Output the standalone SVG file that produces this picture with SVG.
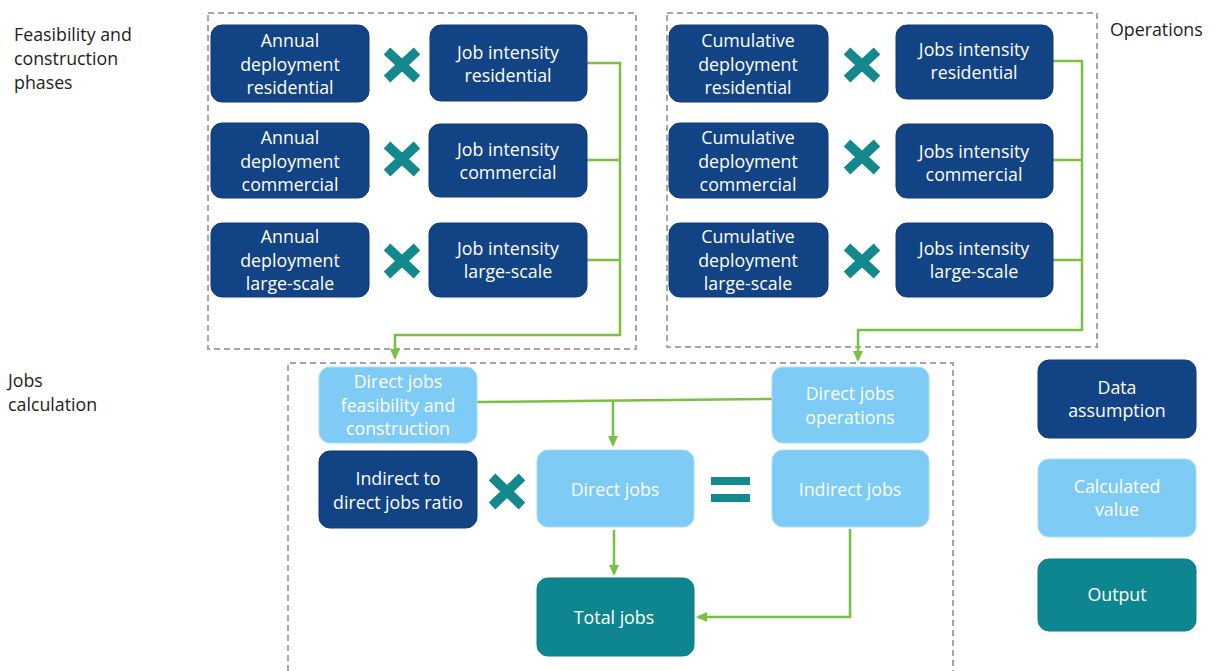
<svg xmlns="http://www.w3.org/2000/svg" width="1215" height="671" viewBox="0 0 1215 671">
<style>
.dash{fill:none;stroke:#a6a6a6;stroke-width:2;stroke-dasharray:6,4}
.dark{fill:#124385;stroke:#0e3a74;stroke-width:1}
.light{fill:#7ecbf5;stroke:#a8dcf8;stroke-width:1}
.teal{fill:#0e8690;stroke:#0c7d86;stroke-width:1}
.t{font-family:"Open Sans","Liberation Sans",sans-serif;font-size:17.8px;fill:#fff;text-anchor:middle}
.lt{font-family:"Open Sans","Liberation Sans",sans-serif;font-size:17.8px;fill:#222}
.conn{fill:none;stroke:#79c043;stroke-width:2.5}
.x{stroke:#13898e;stroke-width:9.5;stroke-linecap:butt}
</style>
<defs>
<marker id="ah2" markerWidth="12" markerHeight="12" refX="9" refY="6" orient="auto" markerUnits="userSpaceOnUse" viewBox="0 0 12 12">
<path d="M0,1 L11,6 L0,11 z" fill="#79c043"/>
</marker>
</defs>
<rect width="1215" height="671" fill="#fff"/>

<g id="containers">
<rect class="dash" x="208" y="13" width="428" height="336"/>
<rect class="dash" x="667" y="13" width="430" height="334"/>
<path class="dash" d="M288,671 L288,363 L953,363 L953,671"/>
</g>

<g id="labels">
<text class="lt" x="14" y="41">Feasibility and</text>
<text class="lt" x="14" y="65">construction</text>
<text class="lt" x="14" y="89">phases</text>
<text class="lt" x="1110" y="36">Operations</text>
<text class="lt" x="8" y="387">Jobs</text>
<text class="lt" x="8" y="411">calculation</text>
</g>

<g id="connectors">
<path class="conn" d="M587,63 H620 V335 H395 V358" marker-end="url(#ah2)"/>
<path class="conn" d="M587,160 H620"/>
<path class="conn" d="M587,260 H620"/>
<path class="conn" d="M1053,61 H1082 V330 H858 V360" marker-end="url(#ah2)"/>
<path class="conn" d="M1053,160 H1082"/>
<path class="conn" d="M1053,260 H1082"/>
<path class="conn" d="M477,402 L772,399"/>
<path class="conn" d="M613,401 V445" marker-end="url(#ah2)"/>
<path class="conn" d="M614,530 V574" marker-end="url(#ah2)"/>
<path class="conn" d="M850,529 V617 H698" marker-end="url(#ah2)"/>
</g>

<g id="operators">
<path class="x" d="M387,51 L417,79 M417,51 L387,79"/>
<path class="x" d="M387,145 L417,173 M417,145 L387,173"/>
<path class="x" d="M387,247 L417,275 M417,247 L387,275"/>
<path class="x" d="M847,51 L877,79 M877,51 L847,79"/>
<path class="x" d="M847,143 L877,171 M877,143 L847,171"/>
<path class="x" d="M847,247 L877,275 M877,247 L847,275"/>
<path class="x" d="M492,477 L522,506 M522,477 L492,506"/>
<rect x="711" y="477" width="39" height="8" fill="#13898e"/>
<rect x="711" y="494" width="39" height="8" fill="#13898e"/>
</g>

<g id="n-annual-res"><rect class="dark" x="211" y="25" width="158" height="77" rx="11"/><text class="t" x="290" y="47">Annual</text><text class="t" x="290" y="71">deployment</text><text class="t" x="290" y="94">residential</text></g>
<g id="n-annual-com"><rect class="dark" x="211" y="123" width="158" height="75" rx="11"/><text class="t" x="290" y="144">Annual</text><text class="t" x="290" y="168">deployment</text><text class="t" x="290" y="191">commercial</text></g>
<g id="n-annual-lrg"><rect class="dark" x="211" y="223" width="158" height="74" rx="11"/><text class="t" x="290" y="243">Annual</text><text class="t" x="290" y="267">deployment</text><text class="t" x="290" y="290">large-scale</text></g>
<g id="n-ji-res"><rect class="dark" x="430" y="25" width="157" height="76" rx="11"/><text class="t" x="508" y="59">Job intensity</text><text class="t" x="508" y="82">residential</text></g>
<g id="n-ji-com"><rect class="dark" x="429" y="124" width="158" height="73" rx="11"/><text class="t" x="508" y="156">Job intensity</text><text class="t" x="508" y="179">commercial</text></g>
<g id="n-ji-lrg"><rect class="dark" x="429" y="223" width="158" height="74" rx="11"/><text class="t" x="508" y="255">Job intensity</text><text class="t" x="508" y="278">large-scale</text></g>

<g id="n-cum-res"><rect class="dark" x="669" y="25" width="159" height="77" rx="11"/><text class="t" x="748" y="47">Cumulative</text><text class="t" x="748" y="71">deployment</text><text class="t" x="748" y="94">residential</text></g>
<g id="n-cum-com"><rect class="dark" x="669" y="123" width="159" height="75" rx="11"/><text class="t" x="748" y="144">Cumulative</text><text class="t" x="748" y="168">deployment</text><text class="t" x="748" y="191">commercial</text></g>
<g id="n-cum-lrg"><rect class="dark" x="669" y="223" width="159" height="74" rx="11"/><text class="t" x="748" y="243">Cumulative</text><text class="t" x="748" y="267">deployment</text><text class="t" x="748" y="290">large-scale</text></g>
<g id="n-oji-res"><rect class="dark" x="896" y="25" width="157" height="74" rx="11"/><text class="t" x="974" y="56">Jobs intensity</text><text class="t" x="974" y="79">residential</text></g>
<g id="n-oji-com"><rect class="dark" x="896" y="124" width="157" height="74" rx="11"/><text class="t" x="974" y="158">Jobs intensity</text><text class="t" x="974" y="181">commercial</text></g>
<g id="n-oji-lrg"><rect class="dark" x="896" y="223" width="157" height="74" rx="11"/><text class="t" x="974" y="255">Jobs intensity</text><text class="t" x="974" y="278">large-scale</text></g>

<g id="n-dj-fc"><rect class="light" x="319" y="367" width="158" height="76" rx="11"/><text class="t" x="398" y="388">Direct jobs</text><text class="t" x="398" y="412">feasibility and</text><text class="t" x="398" y="435">construction</text></g>
<g id="n-dj-op"><rect class="light" x="772" y="367" width="157" height="76" rx="11"/><text class="t" x="850" y="400">Direct jobs</text><text class="t" x="850" y="424">operations</text></g>
<g id="n-ratio"><rect class="dark" x="319" y="451" width="158" height="77" rx="11"/><text class="t" x="398" y="485">Indirect to</text><text class="t" x="398" y="509">direct jobs ratio</text></g>
<g id="n-direct"><rect class="light" x="537" y="450" width="157" height="77" rx="11"/><text class="t" x="615" y="496">Direct jobs</text></g>
<g id="n-indirect"><rect class="light" x="772" y="450" width="157" height="77" rx="11"/><text class="t" x="850" y="496">Indirect jobs</text></g>
<g id="n-total"><rect class="teal" x="537" y="578" width="157" height="78" rx="11"/><text class="t" x="614" y="624">Total jobs</text></g>

<g id="legend-data"><rect class="dark" x="1038" y="360" width="158" height="78" rx="11"/><text class="t" x="1117" y="394">Data</text><text class="t" x="1117" y="417">assumption</text></g>
<g id="legend-calc"><rect class="light" x="1038" y="459" width="158" height="78" rx="11"/><text class="t" x="1117" y="493">Calculated</text><text class="t" x="1117" y="516">value</text></g>
<g id="legend-out"><rect class="teal" x="1038" y="559" width="158" height="72" rx="11"/><text class="t" x="1117" y="601">Output</text></g>
</svg>
